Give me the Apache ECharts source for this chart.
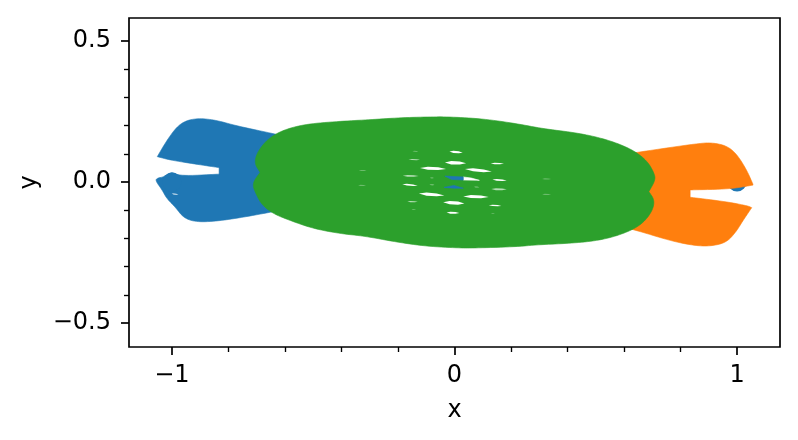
<!DOCTYPE html>
<html>
<head>
<meta charset="utf-8">
<style>html,body{margin:0;padding:0;background:#fff}#c{width:798px;height:440px}</style>
<script src="https://cdn.jsdelivr.net/npm/echarts@6/dist/echarts.min.js"></script>
</head>
<body>
<div id="c"></div>
<script>
const xMajorTicks = [-1, 0, 1];
const xMinorTicks = [-0.8, -0.6, -0.4, -0.2, 0.2, 0.4, 0.6, 0.8];
const yMajorTicks = [-0.5, 0, 0.5];
const yMinorTicks = [-0.4, -0.3, -0.2, -0.1, 0.1, 0.2, 0.3, 0.4];
const xRange = [-1.152, 1.152];
const yRange = [-0.585, 0.5816];

const blueDots = [[-1, 0], [1, 0]];

// a point listed twice is a sharp corner of the outline
const blueRegion = [
  [-1.052,0.090],[-1.052,0.090],[-1.019,0.146],[-0.983,0.196],[-0.948,0.219],[-0.901,0.226],[-0.842,0.219],
  [-0.771,0.199],[-0.629,0.169],[-0.55,0.15],[-0.55,-0.09],[-0.641,-0.105],[-0.748,-0.125],
  [-0.842,-0.139],[-0.913,-0.142],[-0.958,-0.128],[-0.989,-0.088],[-1.019,-0.058],[-1.036,-0.026],
  [-1.056,0.001],[-1.056,0.013],[-1.025,0.019],[-1.001,0.037],[-0.972,0.021],[-0.833,0.028],[-0.833,0.028],
  [-0.833,0.051],[-0.833,0.051],[-0.913,0.063],[-1.007,0.078]
];
const orangeRegion = [
  [1.056,-0.007],[1.056,-0.007],[1.034,0.043],[0.999,0.099],[0.964,0.128],[0.916,0.139],[0.869,0.138],
  [0.645,0.105],[0.55,0.09],[0.55,-0.15],[0.633,-0.168],[0.763,-0.208],[0.845,-0.225],
  [0.904,-0.228],[0.962,-0.215],[0.997,-0.176],[1.022,-0.135],[1.052,-0.091],[1.052,-0.091],[1.040,-0.085],
  [0.964,-0.070],[0.834,-0.054],[0.834,-0.054],[0.834,-0.028],[0.834,-0.028],[0.975,-0.025],[1.056,-0.011],[1.056,-0.011]
];
const greenRegion = [
  [-0.688,0.034],[-0.688,0.034],[-0.708,0.066],[-0.699,0.104],[-0.667,0.146],[-0.631,0.172],[-0.582,0.192],
  [-0.512,0.207],[-0.394,0.216],[-0.299,0.221],[-0.193,0.228],[-0.087,0.231],[-0.016,0.231],
  [0.102,0.224],[0.220,0.207],[0.314,0.189],[0.421,0.176],[0.503,0.160],[0.576,0.138],
  [0.641,0.108],[0.684,0.072],[0.707,0.031],[0.711,0.007],[0.688,-0.034],[0.688,-0.034],[0.708,-0.064],
  [0.701,-0.101],[0.670,-0.143],[0.627,-0.171],[0.562,-0.195],[0.491,-0.210],[0.397,-0.218],
  [0.303,-0.222],[0.208,-0.230],[0.067,-0.234],[0.019,-0.234],[-0.098,-0.228],[-0.205,-0.213],
  [-0.317,-0.192],[-0.405,-0.183],[-0.500,-0.165],[-0.578,-0.138],[-0.643,-0.112],[-0.685,-0.078],
  [-0.709,-0.028],[-0.713,-0.011],[-0.708,0.007]
];

// gaps between the markers: [left x, left y, right x, right y, thickness]
const openGaps = [
  [-0.018,0.108,0.029,0.104,0.008],
  [-0.034,0.069,0.041,0.067,0.012],
  [-0.122,0.050,-0.030,0.046,0.011],
  [0.037,0.046,0.132,0.037,0.011],
  [0.134,0.009,0.185,0.005,0.006],
  [-0.185,-0.008,-0.130,-0.013,0.006],
  [-0.126,-0.041,-0.036,-0.048,0.011],
  [0.031,-0.051,0.121,-0.053,0.011],
  [-0.040,-0.072,0.035,-0.076,0.012],
  [-0.028,-0.108,0.017,-0.110,0.007],
  [0.128,0.066,0.175,0.065,0.005],
  [0.121,-0.082,0.166,-0.085,0.005]
];
const paleGaps = [
  [-0.163,0.080,-0.122,0.079,0.004],
  [-0.183,0.022,-0.127,0.021,0.006],
  [0.130,-0.025,0.185,-0.026,0.007],
  [-0.167,-0.069,-0.130,-0.070,0.004],
  [-1.001,-0.041,-0.977,-0.045,0.005]
];
const faintGaps = [
  [-0.149,0.109,-0.128,0.108,0.0035],
  [-0.087,0.015,-0.073,0.014,0.005],
  [-0.089,-0.009,-0.071,-0.010,0.005],
  [0.069,-0.017,0.088,-0.019,0.005],
  [-0.152,-0.097,-0.136,-0.098,0.003],
  [0.129,-0.111,0.143,-0.112,0.003],
  [-0.339,0.041,-0.311,0.041,0.004],
  [-0.341,-0.012,-0.313,-0.012,0.004],
  [0.310,0.011,0.342,0.011,0.004],
  [0.310,-0.044,0.342,-0.044,0.004]
];
const whiteTail = [[0.031,0.018],[0.060,0.014],[0.088,0.006],[0.031,0.007]];
const bluePeekUpper = [[-0.034,0.021],[0.031,0.018],[0.031,0.007],[-0.010,0.009]];
const bluePeekLower = [[-0.037,-0.019],[-0.002,-0.012],[0.031,-0.022],[-0.002,-0.022]];

const BLUE = '#1f77b4', ORANGE = '#ff7f0e', GREEN = '#2ca02c';
const FONT = 'DejaVu Sans';
const FS = 24;
const LW = 1.7;

// rounds the drawn outline by cutting corners, in pixel space; duplicated points stay sharp
function roundCorners(pts, passes) {
  let out = pts;
  for (let k = 0; k < passes; k++) {
    const next = [];
    for (let i = 0; i < out.length; i++) {
      const a = out[i], b = out[(i + 1) % out.length];
      next.push([a[0] * 0.75 + b[0] * 0.25, a[1] * 0.75 + b[1] * 0.25]);
      next.push([a[0] * 0.25 + b[0] * 0.75, a[1] * 0.25 + b[1] * 0.75]);
    }
    out = next;
  }
  return out;
}
function regionSeries(points, color, z, passes) {
  return {
    type: 'custom', coordinateSystem: 'cartesian2d', silent: true, clip: true, z,
    data: points, encode: {x: 0, y: 1},
    renderItem(params, api) {
      if (params.dataIndex !== 0) return null;
      return {type: 'polygon', shape: {points: roundCorners(points.map(p => api.coord(p)), passes || 0)}, style: {fill: color, stroke: color, lineWidth: 0.6}};
    }
  };
}
function gapSeries(gaps, opacity, z) {
  return {
    type: 'custom', coordinateSystem: 'cartesian2d', silent: true, z,
    data: gaps, encode: {x: [0, 2], y: [1, 3]},
    renderItem(params, api) {
      const g = gaps[params.dataIndex];
      const at = (t, off) => api.coord([g[0] + (g[2] - g[0]) * t, g[1] + (g[3] - g[1]) * t + off]);
      const h = g[4] / 2;
      return {type: 'polygon', shape: {points: [
        at(0, 0), at(0.3, h), at(0.7, h * 0.9), at(1, 0), at(0.7, -h * 0.9), at(0.3, -h)
      ]}, style: {fill: '#fff', opacity}};
    }
  };
}

function xAxisBase() {
  return {type: 'value', position: 'bottom', min: xRange[0], max: xRange[1], splitLine: {show: false}, axisLine: {show: false, onZero: false}};
}
function yAxisBase() {
  return {type: 'value', position: 'left', min: yRange[0], max: yRange[1], splitLine: {show: false}, axisLine: {show: false, onZero: false}};
}

const chart = echarts.init(document.getElementById('c'), null, {renderer: 'canvas'});
chart.setOption({
  animation: false,
  backgroundColor: '#fff',
  grid: {left: 129, right: 18, top: 18, bottom: 93, show: true, borderColor: '#000', borderWidth: LW, backgroundColor: 'transparent'},
  xAxis: [
    Object.assign(xAxisBase(), {
      name: 'x', nameLocation: 'middle', nameGap: 52,
      nameTextStyle: {color: '#000', fontFamily: FONT, fontSize: FS},
      axisTick: {show: true, length: 8, lineStyle: {color: '#000', width: LW}, customValues: xMajorTicks},
      axisLabel: {show: true, color: '#000', fontFamily: FONT, fontSize: FS, margin: 17, customValues: xMajorTicks, formatter: v => String(v).replace('-', '\u2212')}
    }),
    Object.assign(xAxisBase(), {
      axisTick: {show: true, length: 5, lineStyle: {color: '#000', width: LW * 0.8}, customValues: xMinorTicks},
      axisLabel: {show: false}
    })
  ],
  yAxis: [
    Object.assign(yAxisBase(), {
      name: 'y', nameLocation: 'middle', nameGap: 82,
      nameTextStyle: {color: '#000', fontFamily: FONT, fontSize: FS},
      axisTick: {show: true, length: 8, lineStyle: {color: '#000', width: LW}, customValues: yMajorTicks},
      axisLabel: {show: true, color: '#000', fontFamily: FONT, fontSize: FS, margin: 18, padding: [5, 0, 0, 0], customValues: yMajorTicks, formatter: v => v.toFixed(1).replace('-', '\u2212')}
    }),
    Object.assign(yAxisBase(), {
      axisTick: {show: true, length: 5, lineStyle: {color: '#000', width: LW * 0.8}, customValues: yMinorTicks},
      axisLabel: {show: false}
    })
  ],
  series: [
    regionSeries(blueRegion, BLUE, 2, 3),
    {type: 'scatter', data: blueDots, symbol: 'circle', symbolSize: 19, silent: true, z: 2, itemStyle: {color: BLUE, opacity: 1}},
    regionSeries(orangeRegion, ORANGE, 3, 3),
    regionSeries(greenRegion, GREEN, 4, 3),
    gapSeries(openGaps, 1, 5),
    gapSeries(paleGaps, 0.65, 5),
    gapSeries(faintGaps, 0.3, 5),
    regionSeries(whiteTail, '#ffffff', 5),
    regionSeries(bluePeekUpper, BLUE, 6),
    regionSeries(bluePeekLower, BLUE, 6)
  ]
});
</script>
</body>
</html>
